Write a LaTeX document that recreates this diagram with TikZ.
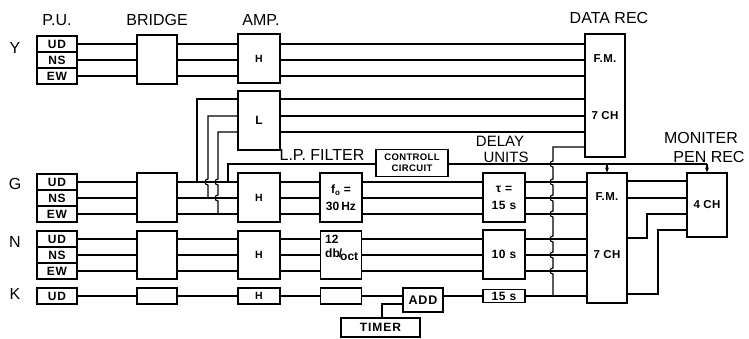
\documentclass[tikz,border=0pt]{standalone}
\usepackage{fontspec}
\setmainfont{Liberation Sans}
\usetikzlibrary{arrows.meta}
\newcommand\hopup[2]{-- (#1,#2+3) to[out=180,in=180,looseness=1.7] (#1,#2-3)}
\begin{document}
\begin{tikzpicture}[x=1pt,y=-1pt,
  box/.style={draw, line width=1.2pt, inner sep=0pt, align=center,
    font=\bfseries\fontsize{12}{13}\selectfont\addfontfeature{LetterSpace=6}},
  bt/.style={inner sep=0pt, align=center,
    font=\bfseries\fontsize{11.5}{12}\selectfont\addfontfeature{LetterSpace=3}},
  lbl/.style={inner sep=0pt, font=\fontsize{16}{18}\selectfont},
  wire/.style={line width=1.1pt},
  arr/.style={wire, -{Stealth[length=5pt,width=4pt]}}]
\useasboundingbox (0,0) rectangle (749,338);

% headers
\node[lbl] (hpu) at (57,20) {P.U.};
\node[lbl] (hbr) at (157,20) {BRIDGE};
\node[lbl] (hamp) at (261,20) {AMP.};
\node[lbl] (hrec) at (609,18) {DATA REC};
\node[lbl] (hlp) at (322,155) {L.P. FILTER};
\node[lbl, font=\fontsize{15}{16}\selectfont] (hdel) at (500,141) {DELAY};
\node[lbl, font=\fontsize{15}{16}\selectfont] (huni) at (506,157.5) {UNITS};
\node[lbl] (hmon) at (701,138) {MONITER};
\node[lbl] (hpen) at (709,157) {PEN REC};
\node[lbl] (ly) at (15,48) {Y};
\node[lbl] (lg) at (15,184) {G};
\node[lbl] (ln) at (15,242) {N};
\node[lbl] (lk) at (15,294) {K};

% P.U. boxes
\foreach \r/\a/\b/\c in {y/44/60/76, g/182/198/214, n/239/255/271}{
  \node[box, minimum width=40pt, minimum height=16pt] (\r ud) at (57,\a) {UD};
  \node[box, minimum width=40pt, minimum height=16pt] (\r ns) at (57,\b) {NS};
  \node[box, minimum width=40pt, minimum height=16pt] (\r ew) at (57,\c) {EW};
}
\node[box, minimum width=40pt, minimum height=16pt] (kud) at (57,296) {UD};

% bridges
\node[box, minimum width=40pt, minimum height=49pt] (ybr) at (157,59.5) {};
\node[box, minimum width=40pt, minimum height=49pt] (gbr) at (157,197.5) {};
\node[box, minimum width=40pt, minimum height=48pt] (nbr) at (157,255) {};
\node[box, minimum width=40pt, minimum height=16pt] (kbr) at (157,296) {};

% amps
\node[box, minimum width=42pt, minimum height=49pt, font=\bfseries\fontsize{10.5}{11}\selectfont] (yamp) at (259,58.5) {H};
\node[box, minimum width=42pt, minimum height=59pt, font=\bfseries\fontsize{12}{12}\selectfont] (lamp) at (259,120.5) {L};
\node[box, minimum width=42pt, minimum height=49pt, font=\bfseries\fontsize{10.5}{11}\selectfont] (gamp) at (259,197.5) {H};
\node[box, minimum width=42pt, minimum height=48pt, font=\bfseries\fontsize{10.5}{11}\selectfont] (namp) at (259,255) {H};
\node[box, minimum width=42pt, minimum height=16pt, font=\bfseries\fontsize{10.5}{11}\selectfont] (kamp) at (259,296) {H};

% filters
\node[box, minimum width=42pt, minimum height=49pt, font=\bfseries\fontsize{12}{13}\selectfont] (gfl) at (341,197.5) {f\textsubscript{o} =\\[4pt]30\,Hz};
\node[box, minimum width=41pt, minimum height=48pt] (nfl) at (341,255) {};
\node[bt, align=left, anchor=north west, font=\bfseries\fontsize{12}{13}\selectfont] (nflt) at (325,235) {12\\[1pt]db\kern-1pt/\kern-2pt\raisebox{-3pt}{oct}};
\node[box, minimum width=41pt, minimum height=16pt] (kfl) at (341,296) {};

% control, add, timer
\node[box, minimum width=72pt, minimum height=27pt, font=\bfseries\fontsize{9.5}{11}\selectfont\addfontfeature{LetterSpace=4}] (ctrl) at (412,163) {CONTROLL\\CIRCUIT};
\node[box, minimum width=40pt, minimum height=24pt, font=\bfseries\fontsize{12.5}{13}\selectfont\addfontfeature{LetterSpace=6}] (add) at (423,300) {ADD};
\node[box, minimum width=79pt, minimum height=19pt, font=\bfseries\fontsize{12}{12}\selectfont\addfontfeature{LetterSpace=8}] (tim) at (380.5,327.5) {TIMER};

% delays
\node[box, minimum width=42pt, minimum height=49pt] (gdl) at (504,197.5) {τ =\\[4pt]15 s};
\node[box, minimum width=42pt, minimum height=49pt] (ndl) at (504,254.5) {10 s};
\node[box, minimum width=42pt, minimum height=13pt] (kdl) at (504,296) {15 s};

% recorders
\node[box, minimum width=40pt, minimum height=123pt] (rec1) at (605,95.5) {};
\node[bt] (r1a) at (605,59) {F.M.};
\node[bt] (r1b) at (605,116) {7 CH};
\node[box, minimum width=40pt, minimum height=130pt] (rec2) at (607,238) {};
\node[bt] (r2a) at (607,197) {F.M.};
\node[bt] (r2b) at (607,255) {7 CH};
\node[box, minimum width=40pt, minimum height=64pt, font=\bfseries\fontsize{11.5}{12}\selectfont\addfontfeature{LetterSpace=3}] (mon) at (707,205) {4 CH};

% ---- wires
\foreach \s in {ud,ns,ew}{
  \draw[wire] (y\s.east) -- (ybr.west |- y\s.east);
  \draw[wire] (ybr.east |- y\s.east) -- (yamp.west |- y\s.east);
  \draw[wire] (yamp.east |- y\s.east) -- (rec1.west |- y\s.east);
  \draw[wire] (g\s.east) -- (gbr.west |- g\s.east);
  \draw[wire] (gbr.east |- g\s.east) -- (gamp.west |- g\s.east);
  \draw[wire] (gamp.east |- g\s.east) -- (gfl.west |- g\s.east);
  \draw[wire] (gfl.east |- g\s.east) -- (gdl.west |- g\s.east);
  \draw[wire] (gdl.east |- g\s.east) -- (rec2.west |- g\s.east);
  \draw[wire] (n\s.east) -- (nbr.west |- n\s.east);
  \draw[wire] (nbr.east |- n\s.east) -- (namp.west |- n\s.east);
  \draw[wire] (namp.east |- n\s.east) -- (nfl.west |- n\s.east);
  \draw[wire] (nfl.east |- n\s.east) -- (ndl.west |- n\s.east);
  \draw[wire] (ndl.east |- n\s.east) -- (rec2.west |- n\s.east);
}
% L outputs
\foreach \yy in {99,116,132}{
  \draw[wire] (lamp.east |- 0,\yy) -- (rec1.west |- 0,\yy);
}
% taps into L
\draw[wire] (197,182) -- (197,99) -- (lamp.west |- 0,99);
\draw[wire] (208,198) \hopup{208}{182} -- (208,116) -- (lamp.west |- 0,116);
\draw[wire] (218,214) \hopup{218}{198} \hopup{218}{182} -- (218,132) -- (lamp.west |- 0,132);
% tap into control
\draw[wire] (228,182) -- (228,164) -- (ctrl.west |- 0,164);
% control outputs
\draw[wire] (ctrl.east |- 0,164) -- (707,164);
\draw[arr] (707,164) -- (mon.north);
\draw[arr] (607,164) -- (rec2.north);
% K chain
\draw[wire] (kud.east) -- (kbr.west);
\draw[wire] (kbr.east) -- (kamp.west);
\draw[wire] (kamp.east) -- (kfl.west);
\draw[wire] (kfl.east) -- (add.west |- 0,296);
\draw[wire] (add.east |- 0,296) -- (kdl.west);
\draw[wire] (kdl.east) -- (rec2.west |- 0,296);
\draw[wire] (tim.north -| 382,0) -- (382,304) -- (add.west |- 0,304);
% K to rec1
\draw[wire] (553,296) \hopup{553}{271} \hopup{553}{255} \hopup{553}{239}
  \hopup{553}{214} \hopup{553}{198} \hopup{553}{182} \hopup{553}{164}
  -- (553,147) -- (rec1.west |- 0,147);
% rec2 to monitor
\draw[wire] (rec2.east |- 0,181) -- (mon.west |- 0,181);
\draw[wire] (rec2.east |- 0,198) -- (mon.west |- 0,198);
\draw[wire] (rec2.east |- 0,238) -- (647,238) -- (647,214) -- (mon.west |- 0,214);
\draw[wire] (rec2.east |- 0,294) -- (658,294) -- (658,230) -- (mon.west |- 0,230);
\end{tikzpicture}
\end{document}
